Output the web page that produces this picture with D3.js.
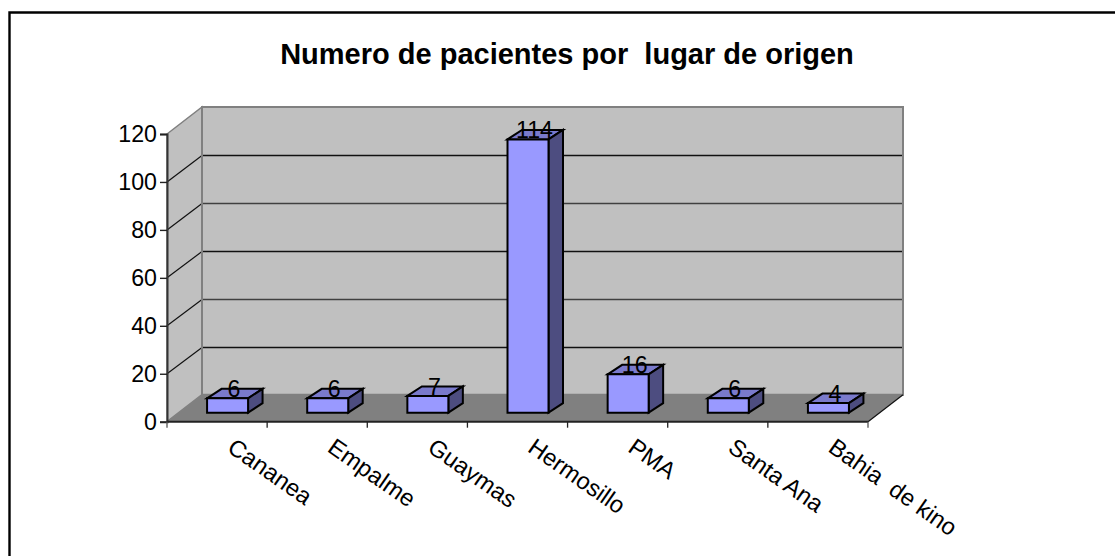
<!DOCTYPE html>
<html><head><meta charset="utf-8">
<script src="https://d3js.org/d3.v7.min.js"></script>
<style>html,body{margin:0;padding:0;background:#fff}svg{display:block}text{font-family:"Liberation Sans",Arial,sans-serif;fill:#000}</style>
</head><body><svg id="c" width="1115" height="556"></svg>
<script>
const categories=["Cananea","Empalme","Guaymas","Hermosillo","PMA","Santa Ana","Bahia  de kino"];
const values=[6,6,7,114,16,6,4];
const yTicks=[0,20,40,60,80,100,120];
const titleText="Numero de pacientes por  lugar de origen";

const svg=d3.select("#c");
const x=d3.scaleBand().domain(categories).range([167,868]).paddingInner(0).paddingOuter(0);
const y=d3.scaleLinear().domain([0,120]).range([421.7,134]);
const wall={dx:35,dy:-27};
const barOff={dx:10.5,dy:-9};
const barDepth={dx:14.5,dy:-9.5};
const barW=41;
const x0=167,x1=868;
const fs=23.2;
const poly=(pts,fill,stroke,sw)=>svg.append("polygon").attr("points",pts.map(p=>p.join(",")).join(" ")).attr("fill",fill).attr("stroke",stroke||"none").attr("stroke-width",sw||0).attr("stroke-linejoin","miter");

// frame
svg.append("path").attr("d","M9.5,556V12.5H1115").attr("fill","none").attr("stroke","#000").attr("stroke-width",2.4);
svg.append("text").attr("x",567).attr("y",64).attr("text-anchor","middle").attr("font-size",29).attr("font-weight","bold").style("white-space","pre").text(titleText);

// walls
const yb=y(0),yt=y(120);
poly([[x0+wall.dx,yt+wall.dy],[x1+wall.dx,yt+wall.dy],[x1+wall.dx,yb+wall.dy],[x0+wall.dx,yb+wall.dy]],"#c0c0c0","#808080",2);
poly([[x0,yt],[x0+wall.dx,yt+wall.dy],[x0+wall.dx,yb+wall.dy],[x0,yb]],"#c0c0c0","#808080",1.5);
// gridlines
yTicks.filter(t=>t>0&&t<120).forEach(t=>{
  const py=Math.round(y(t)+wall.dy)+.5;
  svg.append("line").attr("x1",x0+wall.dx).attr("x2",x1+wall.dx).attr("y1",py).attr("y2",py).attr("stroke",t%40==0?"#404040":"#111").attr("stroke-width",1.4);
  svg.append("line").attr("x1",x0).attr("x2",x0+wall.dx).attr("y1",y(t)).attr("y2",py).attr("stroke","#111").attr("stroke-width",1.2);
});
// back-wall edges over gridlines
[x0+wall.dx,x1+wall.dx].forEach(px=>svg.append("line").attr("x1",px).attr("x2",px).attr("y1",yt+wall.dy).attr("y2",yb+wall.dy).attr("stroke","#808080").attr("stroke-width",2));
// floor
poly([[x0,yb],[x0+wall.dx,yb+wall.dy],[x1+wall.dx,yb+wall.dy],[x1,yb]],"#808080");
svg.append("line").attr("x1",x1).attr("x2",x1+wall.dx).attr("y1",yb).attr("y2",yb+wall.dy).attr("stroke","#111").attr("stroke-width",1.2);

// axes
const yAxis=d3.axisLeft(y).tickValues(yTicks).tickSize(7).tickPadding(3);
const gy=svg.append("g").attr("transform",`translate(${x0},0)`).call(yAxis);
gy.selectAll("path").attr("stroke","#333").attr("stroke-width",2);
gy.selectAll("line").attr("stroke","#222").attr("stroke-width",1.4);
gy.selectAll("text").attr("font-size",fs).attr("dy","0.34em").style("font-family",'"Liberation Sans",Arial,sans-serif').attr("fill","#000");
const edges=categories.map(c=>x(c)).concat([x1]);
svg.append("line").attr("x1",x0).attr("x2",x1).attr("y1",yb).attr("y2",yb).attr("stroke","#222").attr("stroke-width",2);
edges.forEach((e,i)=>svg.append("line").attr("x1",e).attr("x2",e).attr("y1",yb).attr("y2",yb+6).attr("stroke",i==edges.length-1||i==0?"#555":"#222").attr("stroke-width",1.3));

// bars
categories.forEach((c,i)=>{
  const l=x(c)+x.bandwidth()/2-barW/2+barOff.dx, r=l+barW;
  const base=y(0)+barOff.dy, top=y(values[i])+barOff.dy;
  const d=barDepth;
  poly([[l,top],[l+d.dx,top+d.dy],[r+d.dx,top+d.dy],[r,top]],"#7a7acc","#000",2);
  poly([[r,top],[r+d.dx,top+d.dy],[r+d.dx,base+d.dy],[r,base]],"#4d4d80","#000",2);
  poly([[l,top],[r,top],[r,base],[l,base]],"#9999ff","#000",2);
});
// data labels
categories.forEach((c,i)=>{
  svg.append("text").attr("x",x(c)+x.bandwidth()/2+17).attr("y",y(values[i])+barOff.dy-1).attr("text-anchor","middle").attr("font-size",fs).text(values[i]);
});
// category labels
categories.forEach(c=>{
  const px=x(c)+x.bandwidth()/2+9, py=yb+29;
  svg.append("text").attr("transform",`translate(${px},${py}) rotate(35)`).attr("font-size",23.7).style("white-space","pre").text(c);
});
</script></body></html>
